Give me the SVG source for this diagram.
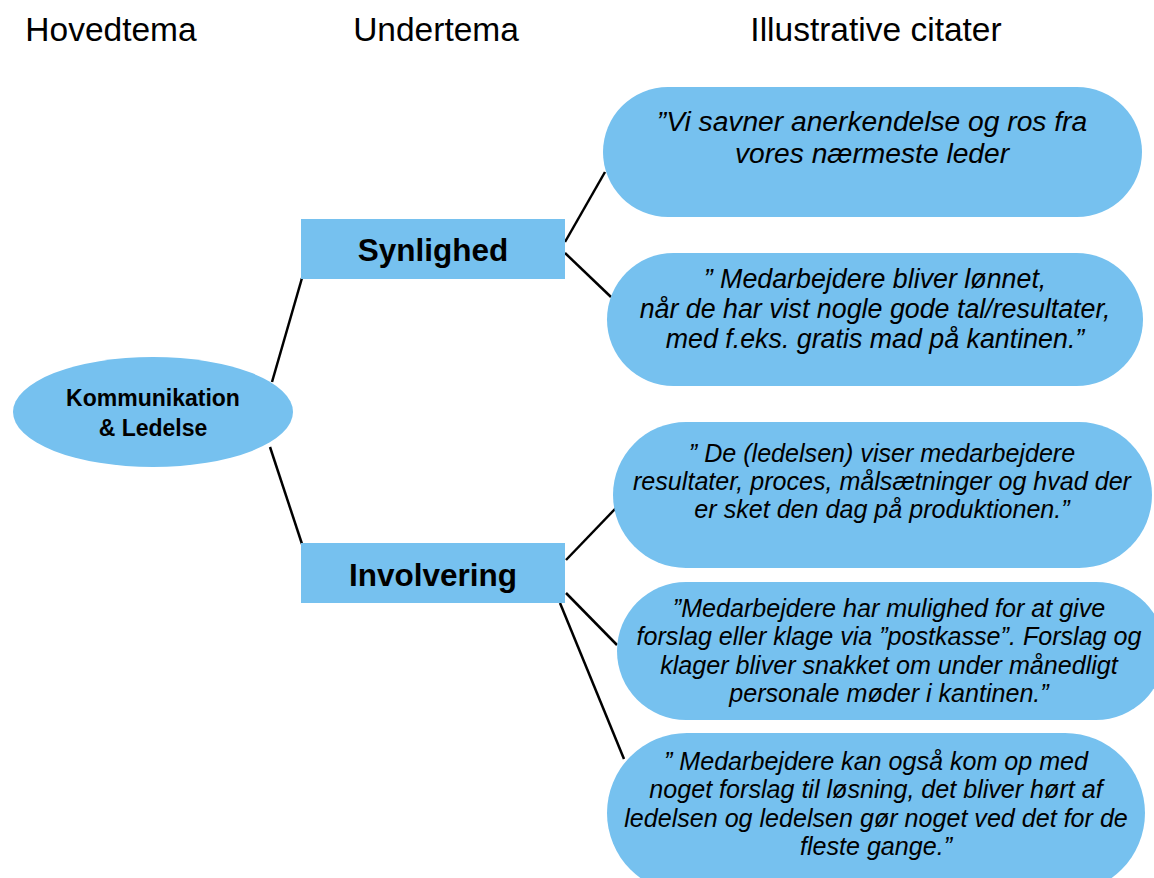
<svg xmlns="http://www.w3.org/2000/svg" width="1154" height="878" viewBox="0 0 1154 878">
  <style>
    .head { font-family: "Liberation Sans", Arial, sans-serif; font-size: 33.5px; fill: #000; text-anchor: middle; }
    .shape { fill: #76C1EF; }
    .main { font-family: "Liberation Sans", Arial, sans-serif; font-weight: bold; font-size: 23px; fill: #000; text-anchor: middle; }
    .sub { font-family: "Liberation Sans", Arial, sans-serif; font-weight: bold; font-size: 31.5px; fill: #000; text-anchor: middle; }
    .quote { font-family: "Liberation Sans", Arial, sans-serif; font-style: italic; fill: #000; text-anchor: middle; }
    .q28 { font-size: 28.2px; }
    .q27 { font-size: 26.8px; }
    .q25 { font-size: 25.1px; }
    .link { stroke: #000; stroke-width: 2.5; fill: none; }
  </style>

  <!-- column headings -->
  <g id="headings">
    <text class="head" x="111" y="41">Hovedtema</text>
    <text class="head" x="436" y="41">Undertema</text>
    <text class="head" x="876" y="41">Illustrative citater</text>
  </g>

  <!-- connectors -->
  <g id="connectors">
    <line class="link" x1="272" y1="382" x2="302" y2="278"/>
    <line class="link" x1="270" y1="447" x2="302" y2="544"/>
    <line class="link" x1="565" y1="242" x2="605" y2="172"/>
    <line class="link" x1="565" y1="253" x2="611" y2="297"/>
    <line class="link" x1="566" y1="560" x2="616" y2="508"/>
    <line class="link" x1="566" y1="593" x2="617" y2="645"/>
    <line class="link" x1="560" y1="603" x2="624" y2="759"/>
  </g>

  <!-- main theme -->
  <g id="node-main">
    <ellipse class="shape" cx="153" cy="412" rx="140" ry="55"/>
    <text class="main" x="153" y="406">Kommunikation</text>
    <text class="main" x="153" y="436">&amp; Ledelse</text>
  </g>

  <!-- sub themes -->
  <g id="node-synlighed">
    <rect class="shape" x="301" y="219" width="264" height="60"/>
    <text class="sub" x="433" y="261">Synlighed</text>
  </g>
  <g id="node-involvering">
    <rect class="shape" x="301" y="543" width="264" height="60"/>
    <text class="sub" x="433" y="586">Involvering</text>
  </g>

  <!-- quotes -->
  <g id="quote-1">
    <rect class="shape" x="603" y="87" width="539" height="130" rx="65"/>
    <text class="quote q28" x="872" y="131">”Vi savner anerkendelse og ros fra</text>
    <text class="quote q28" x="872" y="163">vores nærmeste leder</text>
  </g>
  <g id="quote-2">
    <rect class="shape" x="607" y="253" width="536" height="133" rx="66.5"/>
    <text class="quote q27" x="875" y="288">” Medarbejdere bliver lønnet,</text>
    <text class="quote q27" x="875" y="318">når de har vist nogle gode tal/resultater,</text>
    <text class="quote q27" x="875" y="348">med f.eks. gratis mad på kantinen.”</text>
  </g>
  <g id="quote-3">
    <rect class="shape" x="613" y="422" width="539" height="146" rx="73"/>
    <text class="quote q25" x="882" y="462">” De (ledelsen) viser medarbejdere</text>
    <text class="quote q25" x="882" y="490">resultater, proces, målsætninger og hvad der</text>
    <text class="quote q25" x="882" y="518">er sket den dag på produktionen.”</text>
  </g>
  <g id="quote-4">
    <rect class="shape" x="617" y="582" width="548" height="138" rx="69"/>
    <text class="quote q25" x="889" y="617">”Medarbejdere har mulighed for at give</text>
    <text class="quote q25" x="889" y="645">forslag eller klage via ”postkasse”. Forslag og</text>
    <text class="quote q25" x="889" y="674">klager bliver snakket om under månedligt</text>
    <text class="quote q25" x="889" y="702">personale møder i kantinen.”</text>
  </g>
  <g id="quote-5">
    <rect class="shape" x="607" y="733" width="538" height="160" rx="80"/>
    <text class="quote q25" x="876" y="770">” Medarbejdere kan også kom op med</text>
    <text class="quote q25" x="876" y="798">noget forslag til løsning, det bliver hørt af</text>
    <text class="quote q25" x="876" y="827">ledelsen og ledelsen gør noget ved det for de</text>
    <text class="quote q25" x="876" y="855">fleste gange.”</text>
  </g>
</svg>
